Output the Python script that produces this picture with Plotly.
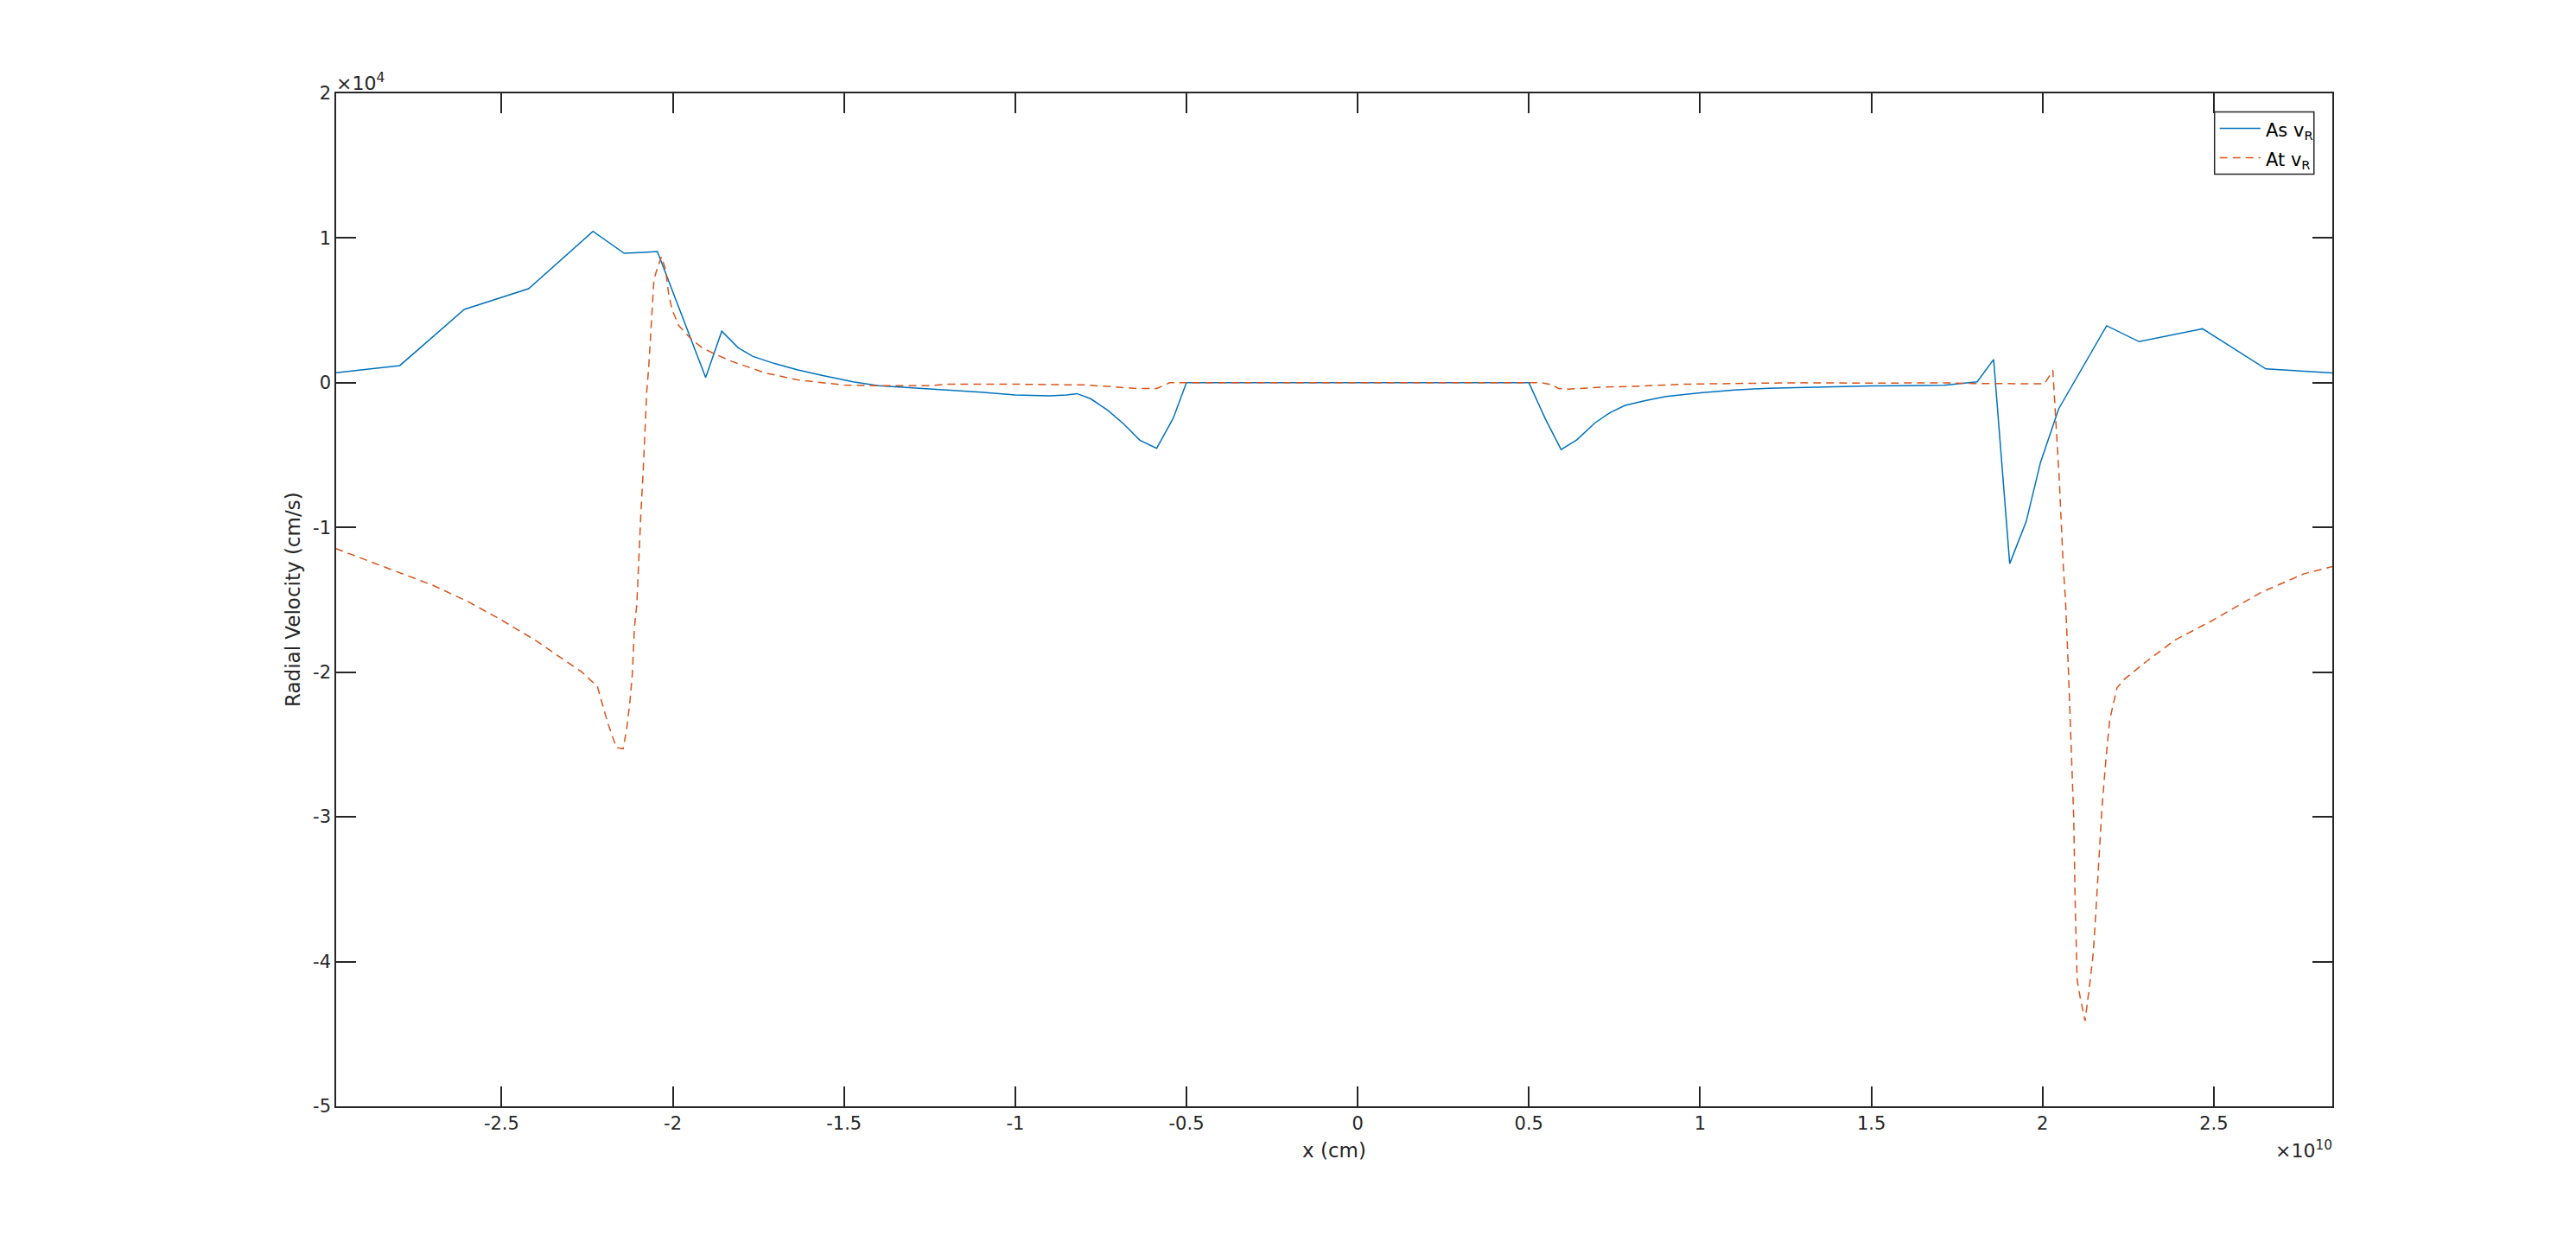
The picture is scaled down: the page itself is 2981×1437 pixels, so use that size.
import plotly.graph_objects as go

# x in units of 1e10 cm, y in units of 1e4 cm/s (as displayed on the axes)
as_x = [-2.985, -2.797, -2.609, -2.421, -2.233, -2.142, -2.084, -2.045, -1.904, -1.857,
        -1.809, -1.766, -1.703, -1.635, -1.568, -1.474, -1.4, -1.3, -1.2, -1.1,
        -1.0, -0.9, -0.85, -0.82, -0.78, -0.73, -0.684, -0.636, -0.587, -0.539,
        -0.50, 0.50, 0.548, 0.594, 0.640, 0.693, 0.737, 0.781, 0.837, 0.9,
        1.0, 1.1, 1.2, 1.35, 1.5, 1.6, 1.712, 1.809, 1.857, 1.904,
        1.952, 1.994, 2.047, 2.187, 2.282, 2.467, 2.652, 2.846]
as_y = [0.069, 0.119, 0.507, 0.650, 1.046, 0.895, 0.901, 0.907, 0.036, 0.356,
        0.242, 0.182, 0.133, 0.089, 0.053, 0.006, -0.02, -0.035, -0.05, -0.065,
        -0.085, -0.09, -0.085, -0.075, -0.11, -0.19, -0.283, -0.397, -0.453, -0.247,
        0.0, 0.0, -0.249, -0.462, -0.394, -0.277, -0.206, -0.156, -0.125, -0.095,
        -0.07, -0.05, -0.038, -0.028, -0.022, -0.02, -0.017, 0.007, 0.161, -1.25,
        -0.96, -0.55, -0.18, 0.394, 0.284, 0.373, 0.096, 0.068]

at_x = [-2.985, -2.9, -2.8, -2.7, -2.6, -2.5, -2.45, -2.4, -2.333, -2.265,
        -2.22, -2.19, -2.165, -2.145, -2.135, -2.125, -2.118, -2.112, -2.105, -2.099,
        -2.093, -2.087, -2.083, -2.076, -2.070, -2.065, -2.055, -2.045, -2.033, -2.021,
        -2.012, -2.002, -1.983, -1.944, -1.915, -1.877, -1.829, -1.732, -1.636, -1.5,
        -1.4, -1.25, -1.2, -1.0, -0.8, -0.7, -0.684, -0.646, -0.587, -0.568,
        -0.549, 0.5, 0.538, 0.567, 0.587, 0.616, 0.674, 0.72, 0.837, 0.95,
        1.1, 1.3, 1.5, 1.7, 1.8, 1.95, 2.006, 2.030, 2.036, 2.049,
        2.06, 2.067, 2.076, 2.085, 2.091, 2.095, 2.101, 2.11, 2.124, 2.139,
        2.148, 2.158, 2.173, 2.185, 2.196, 2.217, 2.238, 2.301, 2.385, 2.498,
        2.637, 2.763, 2.846]
at_y = [-1.145, -1.22, -1.31, -1.40, -1.51, -1.64, -1.711, -1.781, -1.89, -2.0,
        -2.10, -2.35, -2.52, -2.53, -2.40, -2.2, -2.01, -1.69, -1.53, -1.155,
        -0.896, -0.638, -0.419, -0.061, 0.117, 0.316, 0.713, 0.792, 0.871, 0.782,
        0.614, 0.505, 0.396, 0.297, 0.244, 0.198, 0.149, 0.069, 0.020, -0.016,
        -0.02, -0.02, -0.01, -0.01, -0.015, -0.03, -0.032, -0.04, -0.04, -0.02,
        0.0, 0.0, 0.0, -0.014, -0.04, -0.044, -0.036, -0.03, -0.022, -0.01,
        -0.005, 0.0, -0.003, 0.0, -0.005, -0.007, -0.007, 0.086, -0.17, -0.68,
        -1.25, -1.51, -2.02, -2.69, -3.01, -3.58, -4.13, -4.25, -4.41, -4.13,
        -3.94, -3.56, -2.95, -2.60, -2.33, -2.11, -2.05, -1.93, -1.78, -1.64,
        -1.45, -1.32, -1.27]

x_ticks = [-2.5, -2, -1.5, -1, -0.5, 0, 0.5, 1, 1.5, 2, 2.5]
x_tick_text = ["-2.5", "-2", "-1.5", "-1", "-0.5", "0", "0.5", "1", "1.5", "2", "2.5"]
y_ticks = [-5, -4, -3, -2, -1, 0, 1, 2]
y_tick_text = ["-5", "-4", "-3", "-2", "-1", "0", "1", "2"]
series_names = ["As v<sub>R</sub>", "At v<sub>R</sub>"]
series_colors = ["#0072BD", "#D95319"]

FONT = "DejaVu Sans"
AXC = "#262626"
DASH = "9px,6px"

fig = go.Figure()
fig.add_trace(go.Scatter(x=as_x, y=as_y, mode="lines", name=series_names[0],
                         line=dict(color=series_colors[0], width=1.5), showlegend=False))
fig.add_trace(go.Scatter(x=at_x, y=at_y, mode="lines", name=series_names[1],
                         line=dict(color=series_colors[1], width=1.5, dash=DASH),
                         showlegend=False))

axis_common = dict(showgrid=False, zeroline=False, showline=True, linecolor=AXC,
                   linewidth=1.5, ticks="inside", ticklen=23, tickwidth=1.5,
                   tickcolor=AXC, mirror="ticks",
                   tickfont=dict(family=FONT, size=21, color=AXC))

# legend drawn manually (paper coordinates)
lx0, lx1, ly0, ly1 = 0.9410, 0.9908, 0.9202, 0.9816
shapes = [
    dict(type="rect", xref="paper", yref="paper", x0=lx0, x1=lx1, y0=ly0, y1=ly1,
         line=dict(color=AXC, width=1.5), fillcolor="white", layer="above"),
    dict(type="line", xref="paper", yref="paper", x0=0.9436, x1=0.9640, y0=0.9654, y1=0.9654,
         line=dict(color=series_colors[0], width=1.5), layer="above"),
    dict(type="line", xref="paper", yref="paper", x0=0.9436, x1=0.9640, y0=0.9364, y1=0.9364,
         line=dict(color=series_colors[1], width=1.5, dash=DASH), layer="above"),
]

annotations = [
    dict(text=series_names[0], xref="paper", yref="paper", x=0.9657, y=0.9654,
         xanchor="left", yanchor="middle", yshift=-3, showarrow=False,
         font=dict(family=FONT, size=21, color="black")),
    dict(text=series_names[1], xref="paper", yref="paper", x=0.9657, y=0.9364,
         xanchor="left", yanchor="middle", yshift=-3, showarrow=False,
         font=dict(family=FONT, size=21, color="black")),
    dict(text="x (cm)", xref="paper", yref="paper", x=0.5, y=0,
         xanchor="center", yanchor="top", yshift=-36, showarrow=False,
         font=dict(family=FONT, size=23, color=AXC)),
    dict(text="Radial Velocity (cm/s)", xref="paper", yref="paper", x=0, y=0.5,
         xanchor="center", yanchor="middle", xshift=-50, textangle=-90,
         showarrow=False, font=dict(family=FONT, size=23, color=AXC)),
    dict(text="×10<sup>4</sup>", xref="paper", yref="paper", x=0, y=1,
         xanchor="left", yanchor="bottom", xshift=-2, yshift=-3,
         showarrow=False, font=dict(family=FONT, size=22, color=AXC)),
    dict(text="×10<sup>10</sup>", xref="paper", yref="paper", x=1, y=0,
         xanchor="right", yanchor="top", xshift=2, yshift=-34,
         showarrow=False, font=dict(family=FONT, size=22, color=AXC)),
]

fig.update_layout(
    width=2965, height=1421,
    paper_bgcolor="white", plot_bgcolor="white",
    margin=dict(l=381, r=274, t=100, b=149),
    xaxis=dict(range=[-2.983, 2.846], tickvals=x_ticks, ticktext=x_tick_text,
               **axis_common),
    yaxis=dict(range=[-5, 2], tickvals=y_ticks, ticktext=y_tick_text,
               **axis_common),
    showlegend=False,
    shapes=shapes,
    annotations=annotations,
)

fig.write_html("out.html")
